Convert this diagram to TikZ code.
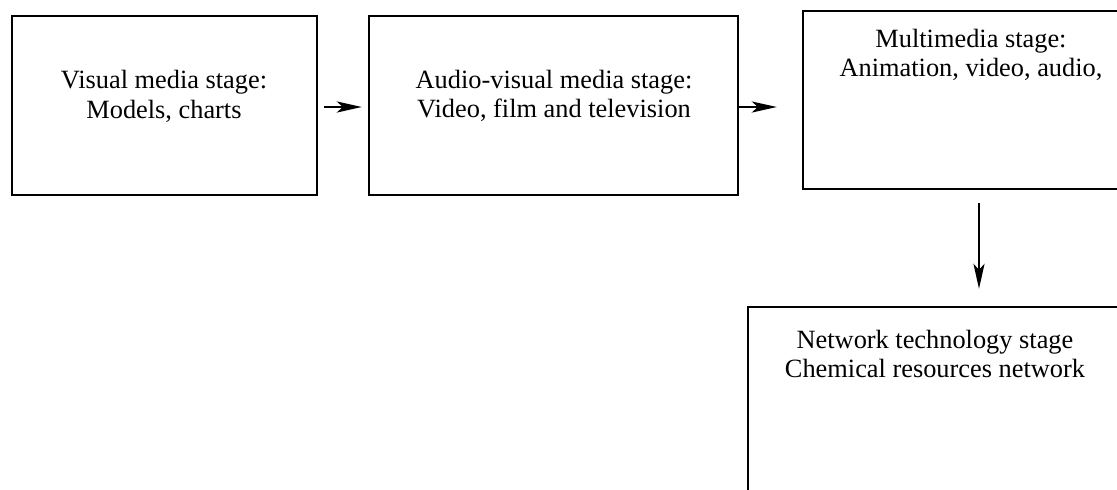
\documentclass[tikz,border=0pt]{standalone}
\usepackage{fontspec}
\setmainfont{Liberation Serif}
\usetikzlibrary{positioning,arrows.meta}

\begin{document}
\begin{tikzpicture}[
  stage/.style={draw,line width=1.3pt,minimum width=#1,inner sep=0pt},
  label text/.style={align=center,font=\fontsize{15}{16.8}\selectfont,inner sep=0pt},
  flow/.style={line width=1.6pt,-{Stealth[length=0.5cm,width=0.22cm,inset=0.12cm]}}
]
  \useasboundingbox (0,0) rectangle (22.34,-9.78);
  \clip (0,0) rectangle (22.34,-9.78);
  \node[stage=6.10cm,minimum height=3.58cm] (visual) at (3.29,-2.11) {};
  \node[stage=7.38cm,minimum height=3.58cm] (audio) at (11.07,-2.11) {};
  \node[stage=6.72cm,minimum height=3.56cm] (multimedia) at (19.42,-2.00) {};
  \node[stage=7.48cm,minimum height=5.00cm] (network) at (18.70,-8.64) {};
  \node[label text] (visualtext) at (3.28,-1.93) {Visual media stage:\\Models, charts};
  \node[label text] (audiotext) at (11.08,-1.92) {Audio-visual media stage:\\Video, film and television};
  \node[label text] (multimediatext) at (19.42,-1.10) {Multimedia stage:\\Animation, video, audio,};
  \node[label text] (networktext) at (18.70,-7.08) {Network technology stage\\Chemical resources network};
  \draw[flow,shorten <=0.12cm,shorten >=0.12cm] ([yshift=-0.03cm]visual.east) -- ([yshift=-0.03cm]audio.west);
  \draw[flow,shorten >=0.5cm] ([yshift=-0.03cm]audio.east) -- ([yshift=-0.03cm]audio.east -| multimedia.west);
  \draw[flow,shorten <=0.26cm,shorten >=0.34cm] ([xshift=0.16cm]multimedia.south) -- ([xshift=0.16cm]multimedia.south |- network.north);
\end{tikzpicture}
\end{document}
